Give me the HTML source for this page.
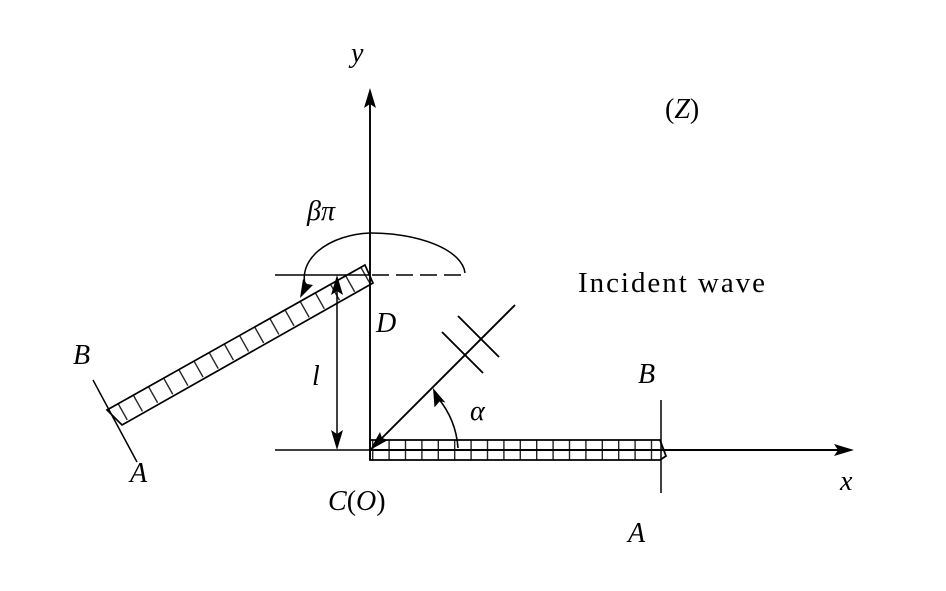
<!DOCTYPE html>
<html><head><meta charset="utf-8"><style>
html,body{margin:0;padding:0;background:#fff;}
svg{display:block}
text{font-family:"Liberation Serif",serif;fill:#000}
</style></head><body>
<svg width="946" height="591" viewBox="0 0 946 591" xmlns="http://www.w3.org/2000/svg">
<g stroke="#000" fill="none" stroke-width="1.9">
<line x1="370" y1="460" x2="370" y2="100"/>
<line x1="370" y1="450" x2="845" y2="450"/>
<line x1="275" y1="450" x2="370" y2="450" stroke-width="1.4"/>
<path d="M370,440 L660,440 L666,456 L660,460 L370,460 Z" stroke-width="1.8"/>
<line x1="372" y1="450" x2="658" y2="450" stroke-width="20" stroke-dasharray="1.4 15" opacity="0.85"/>
<line x1="661" y1="400" x2="661" y2="493" stroke-width="1.5"/>
<path d="M365,265 L373,283 L122,425 L107,410 Z" stroke-width="1.7"/>
<line x1="366" y1="275" x2="114" y2="417" stroke-width="18" stroke-dasharray="1.4 16" opacity="0.85"/>
<line x1="93" y1="380" x2="137" y2="462" stroke-width="1.5"/>
<line x1="275" y1="275" x2="370" y2="275" stroke-width="1.4"/>
<line x1="372" y1="275" x2="466" y2="275" stroke-width="1.4" stroke-dasharray="17 7"/>
<path d="M465,273 A95,42 0 0 0 370,233 A70,45 0 0 0 306,288" stroke-width="1.5"/>
<line x1="337" y1="290" x2="337" y2="436" stroke-width="1.5"/>
<line x1="515" y1="305" x2="382" y2="438"/>
<line x1="442" y1="332" x2="483" y2="373"/>
<line x1="458" y1="316" x2="499" y2="357"/>
<path d="M458,448 A88,88 0 0 0 438,398" stroke-width="1.6"/>
</g>
<g fill="#000">
<polygon points="370,88 364,108 370,104 376,108"/>
<polygon points="854,450 834,444 838,450 834,456"/>
<polygon points="300,298 313,285 307,284 303,279"/>
<polygon points="337,275 331,295 337,291 343,295"/>
<polygon points="337,450 331,430 337,434 343,430"/>
<polygon points="370,450 388,440 382,438 380,432"/>
<polygon points="433,388 445.5,402.6 440,401 434.5,407.4"/>
</g>
<g font-size="28" font-style="italic">
<text x="351" y="62">y</text>
<text x="307" y="220">βπ</text>
<text x="376" y="332">D</text>
<text x="312" y="385">l</text>
<text x="73" y="364">B</text>
<text x="130" y="482">A</text>
<text x="328" y="510">C<tspan font-style="normal">(</tspan>O<tspan font-style="normal">)</tspan></text>
<text x="638" y="383">B</text>
<text x="628" y="542">A</text>
<text x="840" y="490">x</text>
<text x="470" y="420">α</text>
</g>
<text x="665" y="118" font-size="28">(<tspan font-style="italic">Z</tspan>)</text>
<text x="578" y="292" font-size="29" textLength="187">Incident wave</text>
</svg>
</body></html>
